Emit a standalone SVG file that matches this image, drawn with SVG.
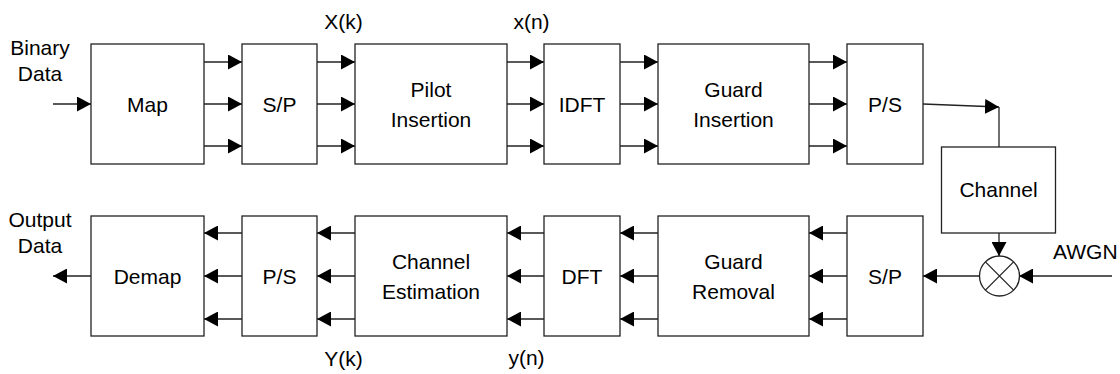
<svg xmlns="http://www.w3.org/2000/svg" width="1120" height="374" viewBox="0 0 1120 374">
<style>
.box{fill:#fff;stroke:#222;stroke-width:1.3}
.ln{fill:none;stroke:#222;stroke-width:1.3}
.ar{fill:none;stroke:#222;stroke-width:1.3;marker-end:url(#ah)}
text{font-family:"Liberation Sans",Arial,sans-serif;font-size:21px;fill:#000}
.c{text-anchor:middle}
</style>
<defs>
<marker id="ah" viewBox="0 0 14 15" refX="14" refY="7.5" markerWidth="14" markerHeight="15" markerUnits="userSpaceOnUse" orient="auto">
<path d="M0,0 L14,7.5 L0,15 z" fill="#000"/>
</marker>
</defs>
<rect width="1120" height="374" fill="#fff"/>
<g id="connectors">
<line class="ar" x1="53" y1="104" x2="91" y2="104"/>
<line class="ar" x1="204" y1="62" x2="242" y2="62"/>
<line class="ar" x1="204" y1="104" x2="242" y2="104"/>
<line class="ar" x1="204" y1="146" x2="242" y2="146"/>
<line class="ar" x1="317" y1="62" x2="355" y2="62"/>
<line class="ar" x1="317" y1="104" x2="355" y2="104"/>
<line class="ar" x1="317" y1="146" x2="355" y2="146"/>
<line class="ar" x1="507" y1="62" x2="544" y2="62"/>
<line class="ar" x1="507" y1="104" x2="544" y2="104"/>
<line class="ar" x1="507" y1="146" x2="544" y2="146"/>
<line class="ar" x1="620" y1="62" x2="658" y2="62"/>
<line class="ar" x1="620" y1="104" x2="658" y2="104"/>
<line class="ar" x1="620" y1="146" x2="658" y2="146"/>
<line class="ar" x1="809" y1="62" x2="847" y2="62"/>
<line class="ar" x1="809" y1="104" x2="847" y2="104"/>
<line class="ar" x1="809" y1="146" x2="847" y2="146"/>
<line class="ar" x1="923" y1="104" x2="999" y2="107"/>
<line class="ln" x1="999" y1="107" x2="999" y2="147"/>
<line class="ar" x1="999" y1="233" x2="999" y2="256"/>
<line class="ar" x1="1112" y1="276" x2="1019" y2="276"/>
<line class="ar" x1="980" y1="276" x2="923" y2="276"/>
<line class="ar" x1="847" y1="233" x2="809" y2="233"/>
<line class="ar" x1="847" y1="276" x2="809" y2="276"/>
<line class="ar" x1="847" y1="319" x2="809" y2="319"/>
<line class="ar" x1="658" y1="233" x2="620" y2="233"/>
<line class="ar" x1="658" y1="276" x2="620" y2="276"/>
<line class="ar" x1="658" y1="319" x2="620" y2="319"/>
<line class="ar" x1="544" y1="233" x2="507" y2="233"/>
<line class="ar" x1="544" y1="276" x2="507" y2="276"/>
<line class="ar" x1="544" y1="319" x2="507" y2="319"/>
<line class="ar" x1="355" y1="233" x2="317" y2="233"/>
<line class="ar" x1="355" y1="276" x2="317" y2="276"/>
<line class="ar" x1="355" y1="319" x2="317" y2="319"/>
<line class="ar" x1="242" y1="233" x2="204" y2="233"/>
<line class="ar" x1="242" y1="276" x2="204" y2="276"/>
<line class="ar" x1="242" y1="319" x2="204" y2="319"/>
<line class="ar" x1="91" y1="276" x2="53" y2="276"/>
</g>
<g id="labels">
<text class="c" x="40" y="55">Binary</text>
<text class="c" x="40" y="81">Data</text>
<text class="c" x="40" y="227">Output</text>
<text class="c" x="40" y="253">Data</text>
<text class="c" x="343.5" y="29">X(k)</text>
<text class="c" x="531.5" y="29">x(n)</text>
<text class="c" x="343.5" y="366">Y(k)</text>
<text class="c" x="526.5" y="365">y(n)</text>
<text x="1053" y="259">AWGN</text>
</g>
<g id="map"><rect class="box" x="91" y="44" width="113" height="120"/><text class="c" x="147.5" y="111.5">Map</text></g>
<g id="sp1"><rect class="box" x="242" y="44" width="75" height="120"/><text class="c" x="279.5" y="111.5">S/P</text></g>
<g id="pilot"><rect class="box" x="355" y="44" width="152" height="120"/><text class="c" x="431" y="97">Pilot</text><text class="c" x="431" y="126.5">Insertion</text></g>
<g id="idft"><rect class="box" x="544" y="44" width="76" height="120"/><text class="c" x="582" y="111.5">IDFT</text></g>
<g id="guardins"><rect class="box" x="658" y="44" width="151" height="120"/><text class="c" x="733.5" y="97">Guard</text><text class="c" x="733.5" y="126.5">Insertion</text></g>
<g id="ps1"><rect class="box" x="847" y="44" width="76" height="120"/><text class="c" x="885" y="111.5">P/S</text></g>
<g id="channel"><rect class="box" x="941.5" y="147" width="114" height="86"/><text class="c" x="998.5" y="197">Channel</text></g>
<g id="mixer"><circle class="box" cx="999.5" cy="276" r="20"/><path class="ln" d="M985.4,261.9 L1013.6,290.1 M1013.6,261.9 L985.4,290.1"/></g>
<g id="sp2"><rect class="box" x="847" y="216" width="76" height="120"/><text class="c" x="885" y="283.5">S/P</text></g>
<g id="guardrem"><rect class="box" x="658" y="216" width="151" height="120"/><text class="c" x="733.5" y="269">Guard</text><text class="c" x="733.5" y="298.5">Removal</text></g>
<g id="dft"><rect class="box" x="544" y="216" width="76" height="120"/><text class="c" x="582" y="283.5">DFT</text></g>
<g id="chest"><rect class="box" x="355" y="216" width="152" height="120"/><text class="c" x="431" y="269">Channel</text><text class="c" x="431" y="298.5">Estimation</text></g>
<g id="ps2"><rect class="box" x="242" y="216" width="75" height="120"/><text class="c" x="279.5" y="283.5">P/S</text></g>
<g id="demap"><rect class="box" x="91" y="216" width="113" height="120"/><text class="c" x="147.5" y="283.5">Demap</text></g>
</svg>
